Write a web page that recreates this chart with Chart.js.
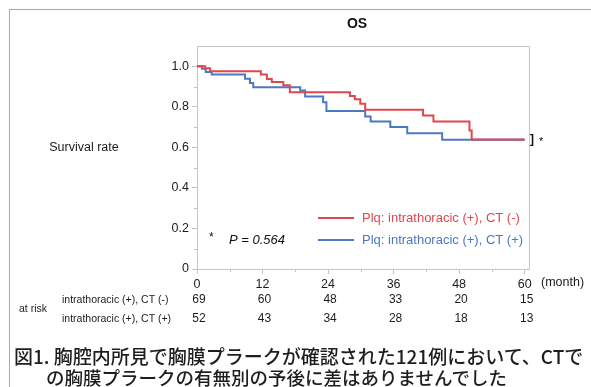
<!DOCTYPE html>
<html>
<head>
<meta charset="utf-8">
<script src="https://cdn.jsdelivr.net/npm/chart.js@4/dist/chart.umd.min.js"></script>
<style>
  html, body { margin: 0; padding: 0; background: #fff; }
  #wrap { position: relative; width: 591px; height: 387px; overflow: hidden; }
  #c { position: absolute; left: 0; top: 0; }
  #frame { position: absolute; left: 9px; top: 9px; right: -10px; bottom: -10px;
           border-top: 1.5px solid #a9a9a9; border-left: 1.5px solid #a9a9a9; }
  .cap { position: absolute; font-family: "Noto Sans CJK JP", sans-serif; font-weight: 500;
         font-size: 19px; color: #1e1e1e; white-space: nowrap; line-height: 1; }
</style>
</head>
<body>
<div id="wrap">
  <canvas id="c" width="591" height="387"></canvas>
  <div id="frame"></div>
  <div class="cap" style="left:14px; top:346px;">図1. 胸腔内所見で胸膜プラークが確認された121例において、CTで</div>
  <div class="cap" style="left:46px; top:368px; font-size:18.5px;">の胸膜プラークの有無別の予後に差はありませんでした</div>
</div>
<script>
// Kaplan-Meier steps: event time (months) and survival from that time onward
const monthsCTneg = [0, 1.5, 2.4, 11.7, 12.8, 13.7, 15.8, 17.0, 28.0, 28.9, 29.9, 30.8, 41.4, 43.3, 49.9, 50.3, 60];
const survCTneg   = [1.0, 0.99, 0.975, 0.96, 0.937, 0.922, 0.906, 0.872, 0.853, 0.837, 0.815, 0.786, 0.757, 0.728, 0.683, 0.639, 0.639];
const monthsCTpos = [0, 0.9, 1.6, 2.7, 8.8, 9.7, 10.3, 18.9, 19.8, 23.1, 23.7, 30.8, 31.8, 35.4, 38.5, 44.9, 60];
const survCTpos   = [1.0, 0.988, 0.972, 0.96, 0.939, 0.918, 0.897, 0.881, 0.851, 0.823, 0.779, 0.752, 0.727, 0.701, 0.670, 0.637, 0.637];

// Number at risk
const riskMonths  = [0, 12, 24, 36, 48, 60];
const atRiskCTneg = [69, 60, 48, 33, 20, 15];
const atRiskCTpos = [52, 43, 34, 28, 18, 13];

const seriesLabels = ['Plq: intrathoracic (+), CT (-)', 'Plq: intrathoracic (+), CT (+)'];
const rowLabels    = ['intrathoracic (+), CT (-)', 'intrathoracic (+), CT (+)'];
const pValueText   = 'P = 0.564';

const RED = '#e0474c';
const BLUE = '#4b79c2';
const AXIS = '#cbc3c3';
const TXT = '#1c1c1c';
const FONT = '"Liberation Sans", Arial, sans-serif';

const toPoints = (xs, ys) => xs.map((x, i) => ({ x, y: ys[i] }));

const extras = {
  id: 'kmExtras',
  afterDraw(chart) {
    const { ctx, chartArea: a, scales: { x, y } } = chart;
    ctx.save();

    // plot box (top and right edges)
    ctx.strokeStyle = AXIS;
    ctx.lineWidth = 1;
    ctx.beginPath();
    ctx.moveTo(a.left, a.top + 0.5);
    ctx.lineTo(a.right + 0.5, a.top + 0.5);
    ctx.lineTo(a.right + 0.5, a.bottom);
    ctx.stroke();

    // minor ticks
    ctx.beginPath();
    for (let v = 0.1; v < 1.05; v += 0.2) {
      const py = Math.round(y.getPixelForValue(v)) + 0.5;
      ctx.moveTo(a.left - 3, py); ctx.lineTo(a.left, py);
    }
    for (let m = 6; m < 60; m += 12) {
      const px = Math.round(x.getPixelForValue(m)) + 0.5;
      ctx.moveTo(px, a.bottom); ctx.lineTo(px, a.bottom + 3);
    }
    ctx.stroke();

    // title
    ctx.fillStyle = '#111';
    ctx.textAlign = 'center';
    ctx.textBaseline = 'middle';
    ctx.font = 'bold 14px ' + FONT;
    ctx.fillText('OS', 357, 24);

    // y axis caption
    ctx.fillStyle = TXT;
    ctx.font = '12.5px ' + FONT;
    ctx.fillText('Survival rate', 84, 148);

    // x unit
    ctx.textAlign = 'left';
    ctx.font = '12.5px ' + FONT;
    ctx.fillText('(month)', 541, 283);

    // censor bracket at end of curves
    const yEnd = y.getPixelForValue(survCTpos[survCTpos.length - 1]);
    ctx.font = 'bold 12px ' + FONT;
    ctx.fillStyle = '#111';
    ctx.fillText(']', 530, yEnd);
    ctx.font = '11px ' + FONT;
    ctx.fillText('*', 539, yEnd + 2);

    // p-value
    ctx.font = '12px ' + FONT;
    ctx.fillText('*', 209, 238);
    ctx.font = 'italic 13px ' + FONT;
    ctx.fillText(pValueText, 229, 240);

    // legend
    const leg = [[RED, seriesLabels[0], 218], [BLUE, seriesLabels[1], 240]];
    ctx.font = '13px ' + FONT;
    leg.forEach(([c, t, ly]) => {
      ctx.strokeStyle = c;
      ctx.lineWidth = 2;
      ctx.beginPath();
      ctx.moveTo(318, ly); ctx.lineTo(354, ly);
      ctx.stroke();
      ctx.fillStyle = c;
      ctx.fillText(t, 362, ly);
    });

    // at-risk table
    ctx.fillStyle = TXT;
    ctx.font = '10.5px ' + FONT;
    ctx.fillText('at risk', 19, 309);
    const rows = [[rowLabels[0], atRiskCTneg, 300], [rowLabels[1], atRiskCTpos, 319]];
    rows.forEach(([lab, vals, ry]) => {
      ctx.textAlign = 'left';
      ctx.font = '10.5px ' + FONT;
      ctx.fillText(lab, 62, ry);
      ctx.textAlign = 'center';
      ctx.font = '12px ' + FONT;
      vals.forEach((v, i) => ctx.fillText(String(v), x.getPixelForValue(riskMonths[i]) + 2, ry));
    });

    ctx.restore();
  }
};

new Chart(document.getElementById('c'), {
  type: 'line',
  data: {
    datasets: [
      { label: seriesLabels[0], data: toPoints(monthsCTneg, survCTneg), borderColor: RED,
        borderWidth: 2, stepped: 'before', pointRadius: 0, fill: false },
      { label: seriesLabels[1], data: toPoints(monthsCTpos, survCTpos), borderColor: BLUE,
        borderWidth: 2, stepped: 'before', pointRadius: 0, fill: false }
    ]
  },
  options: {
    responsive: false,
    animation: false,
    devicePixelRatio: 1,
    layout: { padding: { top: 46, right: 62, left: 0, bottom: 0 } },
    plugins: { legend: { display: false }, title: { display: false }, tooltip: { enabled: false } },
    scales: {
      x: {
        type: 'linear', min: 0, max: 60.8,
        afterFit: s => { s.height = 118; },
        ticks: { stepSize: 12, includeBounds: false, color: TXT, padding: 3,
                 font: { family: FONT, size: 12.5 } },
        grid: { drawOnChartArea: false, drawTicks: true, tickLength: 5, color: AXIS },
        border: { color: AXIS }
      },
      y: {
        type: 'linear', min: 0, max: 1.1,
        afterFit: s => { s.width = 197; },
        ticks: { stepSize: 0.2, includeBounds: false, color: TXT, padding: 3,
                 font: { family: FONT, size: 12.5 },
                 callback: v => (Math.abs(v) < 1e-9 ? '0' : v.toFixed(1)) },
        grid: { drawOnChartArea: false, drawTicks: true, tickLength: 5, color: AXIS },
        border: { color: AXIS }
      }
    }
  },
  plugins: [extras]
});
</script>
</body>
</html>
